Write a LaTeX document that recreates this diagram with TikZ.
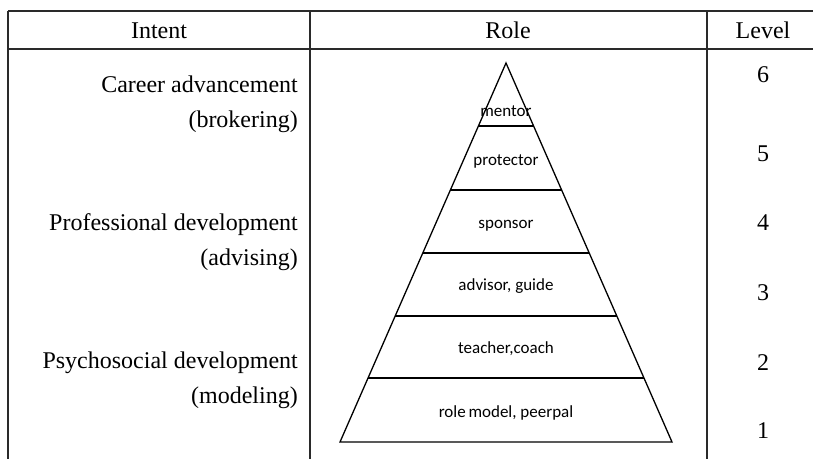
\documentclass[tikz,border=0pt]{standalone}
\usepackage{fontspec}
\usetikzlibrary{calc}
\setmainfont{Liberation Serif}
\newfontfamily\pyrfont{Carlito}
\definecolor{rule}{HTML}{2A2A2A}
\tikzset{
  tabrule/.style={draw=rule, line width=2.4pt},
  pyr/.style={draw=black, line width=1.3pt, line join=miter},
  serif/.style={font=\fontsize{24}{26}\selectfont, inner sep=0pt},
  pyrlabel/.style={font=\pyrfont\fontsize{17}{19}\selectfont, inner sep=0pt, anchor=base},
}
\begin{document}
\begin{tikzpicture}[x=1pt, y=-1pt]
\useasboundingbox (0,0) rectangle (813,459);
% table rules
\coordinate (tl) at (8,11);
\coordinate (tr) at (813,11);
\coordinate (hl) at (8,49);
\coordinate (hr) at (813,49);
\coordinate (bl) at (8,459);
\coordinate (c1t) at (310,11);
\coordinate (c1b) at (310,459);
\coordinate (c2t) at (707,11);
\coordinate (c2b) at (707,459);
\draw[tabrule] (tl) -- (tr);
\draw[tabrule] (hl) -- (hr);
\draw[tabrule] (tl) -- (bl);
\draw[tabrule] (c1t) -- (c1b);
\draw[tabrule] (c2t) -- (c2b);
% header
\node[serif, anchor=base] (hIntent) at (159,38) {Intent};
\node[serif, anchor=base] (hRole) at (508,38) {Role};
\node[serif, anchor=base] (hLevel) at (763,38) {Level};
% intent column
\node[serif, anchor=base east] (i1a) at (298,92) {Career advancement};
\node[serif, anchor=base east] (i1b) at (298,127) {(brokering)};
\node[serif, anchor=base east] (i2a) at (298,230) {Professional development};
\node[serif, anchor=base east] (i2b) at (298,265) {(advising)};
\node[serif, anchor=base east] (i3a) at (298,368) {Psychosocial development};
\node[serif, anchor=base east] (i3b) at (298,403) {(modeling)};
% levels
\node[serif, anchor=base] (l6) at (763,82) {6};
\node[serif, anchor=base] (l5) at (763,161) {5};
\node[serif, anchor=base] (l4) at (763,230) {4};
\node[serif, anchor=base] (l3) at (763,300) {3};
\node[serif, anchor=base] (l2) at (763,370) {2};
\node[serif, anchor=base] (l1) at (763,438) {1};
% pyramid
\coordinate (apex) at (506,63);
\coordinate (baseL) at (340,442);
\coordinate (baseR) at (672,442);
\draw[pyr] (apex) -- (baseL) -- (baseR) -- cycle;
\foreach \yy in {126,190,253,316,378}{
  \pgfmathsetmacro{\ff}{(\yy-63)/379}
  \draw[pyr] ($(apex)!\ff!(baseL)$) -- ($(apex)!\ff!(baseR)$);
}
\node[pyrlabel] (r6) at (506,116) {mentor};
\node[pyrlabel] (r5) at (506,165) {protector};
\node[pyrlabel] (r4) at (506,228) {sponsor};
\node[pyrlabel] (r3) at (506,290) {advisor, guide};
\node[pyrlabel] (r2) at (506,353) {teacher,coach};
\node[pyrlabel] (r1) at (506,417) {role\,model, peerpal};
\end{tikzpicture}
\end{document}
